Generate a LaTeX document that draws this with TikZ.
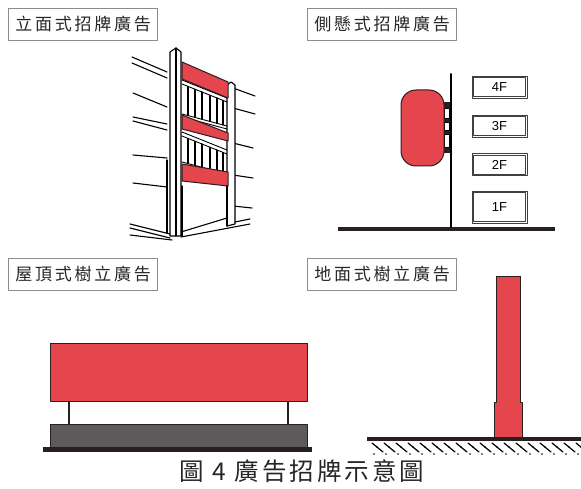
\documentclass[tikz,border=0pt]{standalone}
\usepackage{fontspec}
\newfontfamily\cjk[LetterSpace=16]{Noto Sans CJK TC}
\newfontfamily\capfont[LetterSpace=12]{Noto Sans CJK TC}
\newfontfamily\floorfont{Liberation Sans}
\definecolor{signred}{RGB}{229,69,77}
\definecolor{ink}{RGB}{40,32,32}
\definecolor{slab}{RGB}{92,90,90}
\tikzset{
	every path/.style={line cap=round,line join=round},
	title/.style={
		draw=black!45,
		line width=0.9pt,
		fill=white,
		inner xsep=7pt,
		inner ysep=8pt,
		font=\cjk\fontsize{17}{19}\selectfont,
		text=black!85,
		anchor=north west,
	},
	floor/.style={
		draw=black!75,
		line width=0.9pt,
		minimum width=55pt,
		minimum height=22pt,
		font=\floorfont\fontsize{13}{15}\selectfont,
	},
	inner/.style={
		draw=black!75,
		line width=0.7pt,
	},
	board/.style={
		draw=ink,
		line width=1pt,
		fill=signred,
	},
	sketch/.style={
		draw=black,
		line width=1.1pt,
	},
	ground/.style={
		line width=4.5pt,
		draw=ink,
		line cap=butt,
	},
}

\begin{document}
\begin{tikzpicture}[x=1pt,y=-1pt]
		\useasboundingbox (0,0) rectangle (581,489);

		\node[title] (facade) at (8,8) {立面式招牌廣告};
		\node[title] (hanging) at (307,8) {側懸式招牌廣告};
		\node[title] (roof) at (8,258) {屋頂式樹立廣告};
		\node[title] (pole) at (307,258) {地面式樹立廣告};

%*********  facade signs on the building

		% neighbouring walls
		\draw[sketch] (132,57) -- (167,72);
		\draw[sketch] (132,63) -- (167,78);
		\draw[sketch] (133,93) -- (167,107);
		\draw[sketch] (133,117) -- (167,124);
		\draw[sketch] (133,121) -- (167,130);
		\draw[sketch] (133,155) -- (167,158);
		\draw[sketch] (133,183) -- (167,187);
		\draw[sketch] (167,160) -- (167,233);
		\draw[sketch] (233,88) -- (255,96);
		\draw[sketch] (233,108) -- (255,114);
		\draw[sketch] (233,143) -- (253,148);
		\draw[sketch] (233,175) -- (253,178);
		\draw[sketch] (233,206) -- (252,208);
		% pillars
		\draw[sketch,fill=white] (170,52) -- (176,48) -- (181,52) -- (181,236) -- (170,236) -- cycle;
		\draw[sketch] (176,48) -- (176,236);
		\draw[sketch,fill=white] (227,85) -- (231,82) -- (235,85) -- (235,224) -- (227,226) -- cycle;
		% windows, two storeys
		\foreach \top/\bot in {78/116, 130/164} {
			\draw[sketch,line width=0.9pt] (182,\top+2) -- (227,\top+20);
			\draw[sketch,line width=0.9pt] (182,\top+6) -- (227,\top+24);
			\draw[sketch,line width=0.9pt] (182,\bot-2) -- (227,\bot+10);
			\draw[sketch,line width=0.9pt] (182,\bot+1) -- (227,\bot+13);
			\foreach \x in {188,195,202,210,217,223}
				\draw[line width=1.1pt] (\x,{\top+6+(\x-182)*0.4}) -- (\x,{\bot-2+(\x-182)*0.27});
		}
		% red fascia boards
		\draw[board] (182,62) -- (228,82) -- (228,98) -- (182,79) -- cycle;
		\draw[board] (182,115) -- (228,133) -- (228,141) -- (182,129) -- cycle;
		\draw[board] (182,164) -- (228,172) -- (228,186) -- (182,181) -- cycle;
		% street level
		\draw[sketch] (227,186) -- (227,226);
		\draw[sketch] (182,186) -- (182,236);
		\draw[sketch] (130,224) -- (170,234);
		\draw[sketch] (130,228) -- (170,238);
		\draw[sketch] (130,235) -- (172,240);
		\draw[sketch] (181,232) -- (227,218);
		\draw[sketch] (181,237) -- (250,224);
		\draw[sketch] (235,222) -- (250,219);

%*********  sign hung off the wall

		\draw[ground] (338,229) -- (555,229);
		\draw[line width=2pt] (451,74) -- (451,227);
		\fill[ink] (443,102) rectangle (450,153);
		\foreach \y/\h in {108/10, 122/8, 134/13}
			\draw[fill=white,line width=0.5pt] (444.5,\y) rectangle ++(5,\h);
		\draw[board,rounded corners=15pt] (401,90) rectangle (444,166);

		\node[floor] (fourth) at (499.5,87) {4F};
		\node[floor] (third) at (499.5,126) {3F};
		\node[floor] (second) at (499.5,164.5) {2F};
		\node[floor,minimum height=32pt] (first) at (499.5,207) {1F};
		\foreach \f in {fourth,third,second,first}
			\draw[inner] ([shift={(2pt,-2pt)}]\f.north west) rectangle ([shift={(-2pt,2pt)}]\f.south east);

%*********  board on the roof

		\draw[ground,line width=5pt] (43,449.5) -- (312,449.5);
		\draw[draw=ink,line width=1pt,fill=slab] (50,424) rectangle (307,447);
		\draw[draw=ink,line width=1.2pt] (69,401) -- (69,424);
		\draw[draw=ink,line width=1.2pt] (288,401) -- (288,424);
		\draw[board] (50,343) rectangle (307,401);

%*********  pole sign on the ground

		\draw[board] (494,437) -- (494,402) -- (496,402) -- (496,276) -- (520,276)
			-- (520,402) -- (522,402) -- (522,437) -- cycle;
		\draw[ground] (367,439) -- (581,439);
		\foreach \x in {372,384,...,576} {
			\draw[line width=1.2pt] (\x,443) -- (\x+11,452);
			\fill (\x+5,447) circle (0.8pt);
			\fill (\x+2,454) circle (0.8pt);
		}

		\node[font=\capfont\fontsize{24.5}{29}\selectfont,text=black!85] (caption) at (302,471) {圖 4 廣告招牌示意圖};
	\end{tikzpicture}
\end{document}
